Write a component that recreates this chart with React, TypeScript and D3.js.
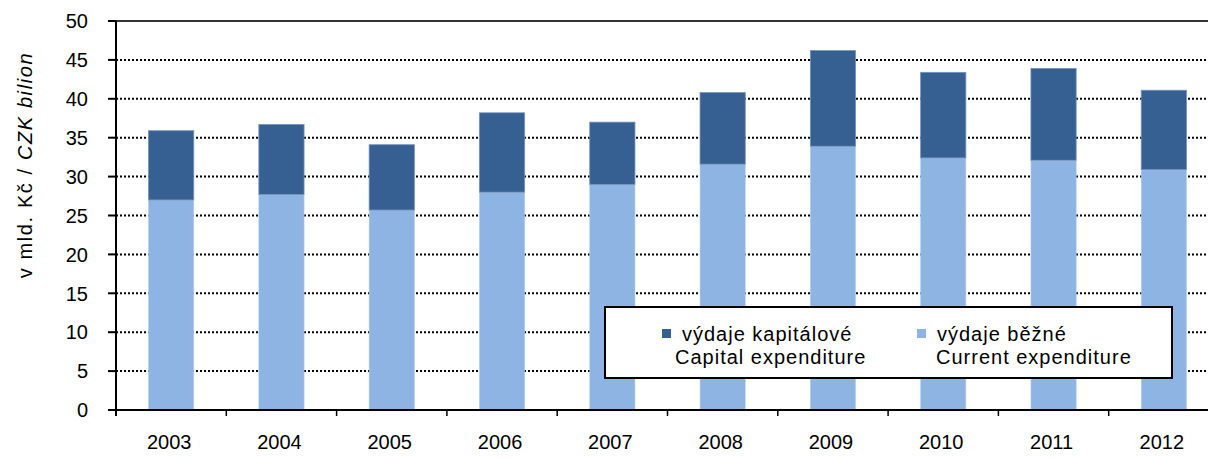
import React from "react";
import * as d3 from "d3";

const years = ["2003", "2004", "2005", "2006", "2007", "2008", "2009", "2010", "2011", "2012"];
const current = [27.0, 27.7, 25.7, 28.0, 29.0, 31.6, 33.9, 32.4, 32.1, 30.9];
const capital = [8.9, 9.0, 8.4, 10.2, 8.0, 9.2, 12.3, 11.0, 11.8, 10.2];
const yTicks = [0, 5, 10, 15, 20, 25, 30, 35, 40, 45, 50];
const legendItems = [
  { line1: "výdaje kapitálové", line2: "Capital expenditure", color: "#376092" },
  { line1: "výdaje běžné", line2: "Current expenditure", color: "#8EB4E3" },
];

const W = 1208;
const H = 459;
const left = 116;
const right = 1219;
const top = 21;
const bottom = 410;
const font = "Liberation Sans, Arial, sans-serif";

export default function App() {
  const x = d3.scaleBand<string>().domain(years).range([left, right]).paddingInner(0.59).paddingOuter(0.295);
  const xb = d3.scaleBand<string>().domain(years).range([left, right]);
  const y = d3.scaleLinear().domain([0, 50]).range([bottom, top]);
  const stack = d3.stack<number>().keys(["current", "capital"]).value((i: number, k: string) => (k === "current" ? current[i] : capital[i]));
  const series = stack(years.map((_, i) => i) as any);
  const colors = ["#8EB4E3", "#376092"];

  return (
    <svg width={W} height={H} style={{ position: "absolute", left: 0, top: 0, background: "#fff" }} fontFamily={font}>
      {/* gridlines */}
      {yTicks.filter((t) => t > 0 && t < 50).map((t) => (
        <line key={t} x1={left} x2={W} y1={y(t)} y2={y(t)} stroke="#000" strokeWidth={2} strokeDasharray="2,2" />
      ))}
      <line x1={left} x2={W} y1={y(50)} y2={y(50)} stroke="#333" strokeWidth={2} />
      {/* bars */}
      {series.map((s, si) =>
        s.map((d, i) => (
          <rect
            key={si + "-" + i}
            x={x(years[i])}
            y={y(d[1])}
            width={x.bandwidth()}
            height={y(d[0]) - y(d[1])}
            fill={colors[si]}
            stroke={si === 1 ? "#7393BD" : "#B7CEEC"}
            strokeWidth={si === 1 ? 0.8 : 0.6}
          />
        ))
      )}
      {/* y axis */}
      <line x1={left} x2={left} y1={top} y2={bottom + 6} stroke="#000" strokeWidth={2} />
      {yTicks.map((t) => (
        <g key={t}>
          <line x1={left - 8} x2={left} y1={y(t)} y2={y(t)} stroke="#000" strokeWidth={2} />
          <text x={88} y={y(t)} dy="0.36em" textAnchor="end" fontSize={20} fill="#000">
            {t}
          </text>
        </g>
      ))}
      {/* x axis */}
      <line x1={left - 8} x2={W} y1={bottom} y2={bottom} stroke="#000" strokeWidth={2} />
      {years.map((yr) => (
        <g key={yr}>
          <line x1={(xb(yr) as number) + xb.bandwidth()} x2={(xb(yr) as number) + xb.bandwidth()} y1={bottom} y2={bottom + 6} stroke="#000" strokeWidth={1.5} />
          <text x={(xb(yr) as number) + xb.bandwidth() / 2 - 2} y={449} textAnchor="middle" fontSize={20} fill="#000">
            {yr}
          </text>
        </g>
      ))}
      {/* y title */}
      <text transform={`translate(32,165) rotate(-90)`} textAnchor="middle" fontSize={20} letterSpacing={1.6} fill="#000">
        v mld. Kč / <tspan fontStyle="italic">CZK bilion</tspan>
      </text>
      {/* legend */}
      <rect x={605} y={307} width={567} height={71} fill="#fff" stroke="#000" strokeWidth={2} />
      {legendItems.map((it, i) => {
        const lx = 662 + i * 255;
        return (
          <g key={i}>
            <rect x={lx} y={329} width={9} height={9} fill={it.color} />
            <text x={lx + 20} y={341} fontSize={20} letterSpacing={1} fill="#000">
              {it.line1}
            </text>
            <text x={lx + (i === 0 ? 13 : 19)} y={364} fontSize={20} letterSpacing={1} fill="#000">
              {it.line2}
            </text>
          </g>
        );
      })}
    </svg>
  );
}
